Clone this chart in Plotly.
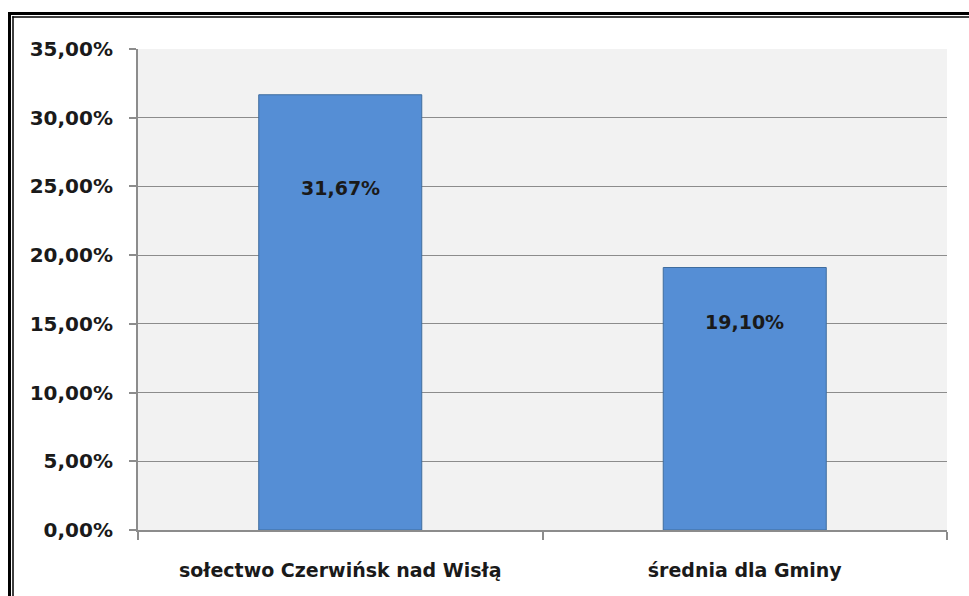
import plotly.graph_objects as go

categories = ["sołectwo Czerwińsk nad Wisłą", "średnia dla Gminy"]
values = [31.67, 19.10]
value_labels = ["31,67%", "19,10%"]
label_y = [24.9, 15.1]
y_ticks = [0, 5, 10, 15, 20, 25, 30, 35]
y_tick_labels = ["0,00%", "5,00%", "10,00%", "15,00%", "20,00%", "25,00%", "30,00%", "35,00%"]

W, H = 969, 596
L, R, T, B = 138, 22, 49, 66
PW, PH = W - L - R, H - T - B

def px(x):
    return (x - L) / PW

def py(y):
    return (H - B - y) / PH

FONT = "DejaVu Sans"
TXT = "#1a1a1a"
GRID = "#8c8c8c"

fig = go.Figure()
fig.add_trace(go.Bar(
    x=categories, y=values, width=0.403,
    marker=dict(color="#558ED5", line=dict(color="#3f6c9e", width=1)),
    hoverinfo="skip",
))

for c, yv, t in zip(categories, label_y, value_labels):
    fig.add_annotation(x=c, y=yv, text="<b>%s</b>" % t, showarrow=False,
                       font=dict(family=FONT, size=19, color=TXT))

# double frame (only left and top edges visible in the picture)
for (xa, ya, w) in [(9.5, 13.5, 3), (13, 17, 1.5)]:
    fig.add_shape(type="line", xref="paper", yref="paper",
                  x0=px(xa), x1=px(xa), y0=py(ya - w / 2), y1=py(600),
                  line=dict(color="black", width=w), layer="above")
    fig.add_shape(type="line", xref="paper", yref="paper",
                  x0=px(xa - w / 2), x1=px(975), y0=py(ya), y1=py(ya),
                  line=dict(color="black", width=w), layer="above")

fig.update_layout(
    width=W, height=H,
    margin=dict(l=L, r=R, t=T, b=B),
    paper_bgcolor="white", plot_bgcolor="#f2f2f2",
    showlegend=False,
    font=dict(family=FONT, size=18, color=TXT),
)
fig.update_yaxes(
    range=[0, 35], tickvals=y_ticks,
    ticktext=["<b>%s</b>" % s for s in y_tick_labels],
    tickfont=dict(family=FONT, size=20, color=TXT),
    showgrid=True, gridcolor=GRID, gridwidth=1,
    showline=True, linecolor=GRID, linewidth=2,
    ticks="outside", ticklen=7, tickcolor=GRID, tickwidth=2,
    ticklabelstandoff=12,
    zeroline=False, fixedrange=True,
)
fig.update_xaxes(
    tickvals=categories,
    ticktext=["<b>%s</b>" % s for s in categories],
    tickfont=dict(family=FONT, size=19, color=TXT),
    showline=True, linecolor=GRID, linewidth=2,
    ticks="outside", tickson="boundaries", ticklen=8, tickcolor=GRID, tickwidth=2,
    ticklabelstandoff=22,
    showgrid=False, fixedrange=True,
)
fig.write_html(
    "out.html",
    config={"displayModeBar": False},
    post_script="document.body.style.margin='0';document.body.style.overflow='hidden';",
)
